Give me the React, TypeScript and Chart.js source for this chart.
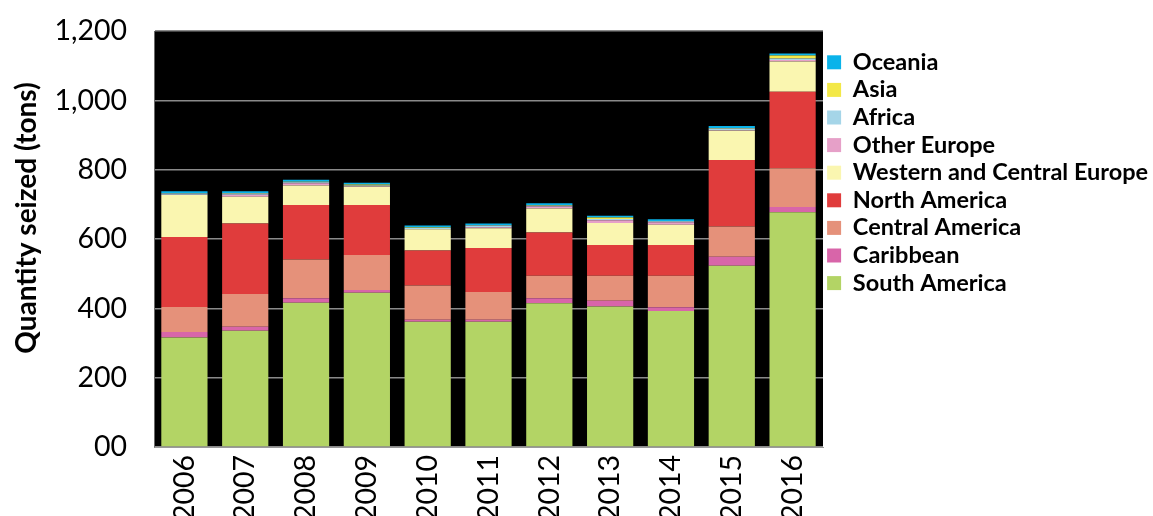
import React, { useEffect, useRef } from "react";
import { Chart, registerables } from "chart.js";

Chart.register(...registerables);

const years = ["2006", "2007", "2008", "2009", "2010", "2011", "2012", "2013", "2014", "2015", "2016"];
const yTickLabels = ["00", "200", "400", "600", "800", "1,000", "1,200"];

const southAmerica = [316, 335, 416, 445, 361, 361, 415, 405, 392, 523, 677];
const caribbean = [16, 12, 13, 8, 6, 6, 14, 17, 11, 26, 15];
const centralAmerica = [72, 94, 112, 101, 99, 80, 65, 72, 91, 87, 112];
const northAmerica = [202, 204, 157, 144, 101, 127, 125, 89, 89, 192, 221];
const westernCentralEurope = [121, 77, 56, 53, 61, 57, 69, 63, 58, 84, 87];
const otherEurope = [1, 6, 7, 1, 1, 3, 6, 8, 7, 2, 4];
const africa = [3, 3, 3, 2, 3, 5, 2, 4, 3, 5, 5];
const asia = [1, 2, 1, 3, 1, 1, 1, 4, 1, 1, 8];
const oceania = [6, 5, 6, 5, 6, 5, 6, 5, 5, 6, 6];

const seriesNames = [
  "South America",
  "Caribbean",
  "Central America",
  "North America",
  "Western and Central Europe",
  "Other Europe",
  "Africa",
  "Asia",
  "Oceania",
];
const seriesValues = [
  southAmerica,
  caribbean,
  centralAmerica,
  northAmerica,
  westernCentralEurope,
  otherEurope,
  africa,
  asia,
  oceania,
];
const seriesColors = [
  "#B3D465",
  "#D865A9",
  "#E5917A",
  "#E03C3C",
  "#FAF6B0",
  "#E6A0C8",
  "#A5D5E8",
  "#F3E847",
  "#0AB3EA",
];

const yAxisTitle = "Quantity seized (tons)";

const plotBackground = {
  id: "plotBackground",
  beforeDraw(chart: any) {
    const { ctx, chartArea } = chart;
    ctx.save();
    ctx.fillStyle = "#000";
    ctx.fillRect(chartArea.left, chartArea.top, chartArea.right - chartArea.left, chartArea.bottom - chartArea.top);
    ctx.restore();
  },
};

const axisTitle = {
  id: "axisTitle",
  afterDraw(chart: any) {
    const { ctx } = chart;
    ctx.save();
    ctx.translate(27, 218);
    ctx.rotate(-Math.PI / 2);
    ctx.font = "bold 28px Lato";
    ctx.fillStyle = "#000";
    ctx.textAlign = "center";
    ctx.textBaseline = "middle";
    ctx.fillText(yAxisTitle, 0, 0);
    ctx.restore();
  },
};

export default function App() {
  const ref = useRef<HTMLCanvasElement | null>(null);

  useEffect(() => {
    if (!ref.current) return;
    Chart.defaults.font.family = "Lato";
    const chart = new Chart(ref.current, {
      type: "bar",
      data: {
        labels: years,
        datasets: seriesNames.map((name, i) => ({
          label: name,
          data: seriesValues[i],
          backgroundColor: seriesColors[i],
          borderWidth: 0,
          barPercentage: 1,
          categoryPercentage: 0.76,
        })),
      },
      options: {
        animation: false,
        responsive: false,
        layout: { padding: { top: 31, right: 0, bottom: 0, left: 0 } },
        plugins: {
          tooltip: { enabled: false },
          legend: {
            position: "right",
            align: "start",
            reverse: true,
            maxWidth: 330,
            title: { display: true, text: " ", font: { size: 1 }, padding: { top: 14.25, bottom: 0 } },
            labels: {
              boxWidth: 14,
              boxHeight: 14,
              padding: 4.1,
              color: "#000",
              font: { size: 23.5, weight: "bold", family: "Lato" },
            },
          },
        },
        scales: {
          x: {
            stacked: true,
            afterFit(scale: any) {
              scale.height = 69;
            },
            grid: { display: false, drawTicks: false },
            border: { display: true, color: "#9a9a9a", width: 1 },
            ticks: {
              autoSkip: false,
              minRotation: 90,
              maxRotation: 90,
              padding: 8,
              color: "#000",
              font: { size: 28.5, family: "Lato" },
            },
          },
          y: {
            stacked: true,
            min: 0,
            max: 1200,
            afterFit(scale: any) {
              scale.width = 154;
            },
            grid: {
              color: "#8a8a8a",
              lineWidth: 1.5,
              drawTicks: true,
              tickLength: 24,
              tickColor: "rgba(0,0,0,0)",
            },
            border: { display: true, color: "#6a6a6a", width: 1 },
            ticks: {
              stepSize: 200,
              padding: 3,
              color: "#000",
              font: { size: 28.5, family: "Lato" },
              callback: (_v: any, i: number) => yTickLabels[i],
            },
          },
        },
      },
      plugins: [plotBackground, axisTitle],
    });
    const fonts: any = (document as any).fonts;
    if (fonts && fonts.load) {
      Promise.all([fonts.load("bold 20px Lato"), fonts.load("27px Lato")]).then(() => chart.update());
    }
    return () => chart.destroy();
  }, []);

  return (
    <div style={{ position: "fixed", left: 0, top: 0, width: 1153, height: 516, background: "#fff" }}>
      <canvas ref={ref} width={1153} height={516} />
    </div>
  );
}
